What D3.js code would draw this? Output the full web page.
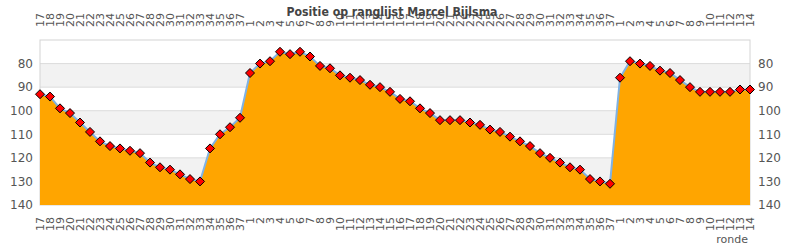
<!DOCTYPE html>
<html>
<head>
<meta charset="utf-8">
<script src="https://cdn.jsdelivr.net/npm/d3@7"></script>
<style>
  body { margin: 0; background: #fff; }
  text { font-family: "DejaVu Sans", sans-serif; fill: #555; }
</style>
</head>
<body>
<div id="chart"></div>
<script>
// Rondes per seizoen
var rondes1 = d3.range(17, 38);
var rondes2 = d3.range(1, 38);
var rondes3 = d3.range(1, 15);

// Positie op de ranglijst per ronde
var posities1 = [93, 94, 99, 101, 105, 109, 113, 115, 116, 117, 118, 122, 124, 125, 127, 129, 130, 116, 110, 107, 103];
var posities2 = [84, 80, 79, 75, 76, 75, 77, 81, 82, 85, 86, 87, 89, 90, 92, 95, 96, 99, 101, 104, 104, 104, 105, 106,
                 108, 109, 111, 113, 115, 118, 120, 122, 124, 125, 129, 130, 131];
var posities3 = [86, 79, 80, 81, 83, 84, 87, 90, 92, 92, 92, 92, 91, 91];

var yTicks = [80, 90, 100, 110, 120, 130, 140];

var labels = rondes1.concat(rondes2, rondes3);
var posities = posities1.concat(posities2, posities3);
var data = posities.map(function (p, i) { return { i: i, ronde: labels[i], pos: p }; });

var margin = { top: 40, right: 40, bottom: 45, left: 40 };
var totalW = 790, totalH = 250;
var width = totalW - margin.left - margin.right;
var height = 205 - margin.top;

var svg = d3.select("#chart").append("svg")
    .attr("width", totalW)
    .attr("height", totalH);

var g = svg.append("g")
    .attr("transform", "translate(" + margin.left + "," + margin.top + ")");

var x = d3.scalePoint()
    .domain(data.map(function (d) { return d.i; }))
    .range([0, width]);

var y = d3.scaleLinear()
    .domain([70, 140])
    .range([0, height]);

// achtergrond banden
var bands = [[80, 90], [100, 110], [120, 130]];
g.selectAll("rect.band").data(bands).join("rect")
    .attr("class", "band")
    .attr("x", 0)
    .attr("width", width)
    .attr("y", function (d) { return y(d[0]); })
    .attr("height", function (d) { return y(d[1]) - y(d[0]); })
    .attr("fill", "#f2f2f2");

// grid
g.selectAll("line.grid").data(yTicks.slice(0, -1)).join("line")
    .attr("class", "grid")
    .attr("x1", 0).attr("x2", width)
    .attr("y1", function (d) { return y(d); })
    .attr("y2", function (d) { return y(d); })
    .attr("stroke", "#dcdcdc");

// kader
g.append("rect")
    .attr("width", width)
    .attr("height", height)
    .attr("fill", "none")
    .attr("stroke", "#d4d4d4");

// gevuld vlak
var area = d3.area()
    .x(function (d) { return x(d.i); })
    .y0(y(140))
    .y1(function (d) { return y(d.pos); });

g.append("path")
    .datum(data)
    .attr("d", area)
    .attr("fill", "#ffa500");

var line = d3.line()
    .x(function (d) { return x(d.i); })
    .y(function (d) { return y(d.pos); });

g.append("path")
    .datum(data)
    .attr("d", line)
    .attr("fill", "none")
    .attr("stroke", "#7fb2e5")
    .attr("stroke-width", 2);

// markers (ruit)
var r = 4.5;
g.selectAll("path.marker").data(data).join("path")
    .attr("class", "marker")
    .attr("transform", function (d) { return "translate(" + x(d.i) + "," + y(d.pos) + ")"; })
    .attr("d", "M0," + (-r) + "L" + r + ",0L0," + r + "L" + (-r) + ",0Z")
    .attr("fill", "#ff0000")
    .attr("stroke", "#000")
    .attr("stroke-width", 1);

// y-assen links en rechts
var yAxisL = d3.axisLeft(y).tickValues(yTicks).tickSize(0).tickPadding(7);
var yAxisR = d3.axisRight(y).tickValues(yTicks).tickSize(0).tickPadding(8);

g.append("g").call(yAxisL)
    .call(function (a) { a.select(".domain").remove(); })
    .selectAll("text").style("font-size", "12px").attr("fill", "#555");

g.append("g").attr("transform", "translate(" + width + ",0)").call(yAxisR)
    .call(function (a) { a.select(".domain").remove(); })
    .selectAll("text").style("font-size", "12px").attr("fill", "#555");

// x labels boven
g.selectAll("text.xtop").data(data).join("text")
    .attr("class", "xtop")
    .attr("transform", function (d) { return "translate(" + x(d.i) + "," + (-13) + ") rotate(-90)"; })
    .attr("dy", "0.35em")
    .attr("text-anchor", "start")
    .style("font-size", "11px")
    .text(function (d) { return d.ronde; });

// x labels onder
g.selectAll("text.xbot").data(data).join("text")
    .attr("class", "xbot")
    .attr("transform", function (d) { return "translate(" + x(d.i) + "," + (height + 12) + ") rotate(-90)"; })
    .attr("dy", "0.35em")
    .attr("text-anchor", "end")
    .style("font-size", "11px")
    .text(function (d) { return d.ronde; });

// titel
svg.append("text")
    .attr("x", 392)
    .attr("y", 16)
    .attr("text-anchor", "middle")
    .attr("textLength", 211)
    .attr("lengthAdjust", "spacingAndGlyphs")
    .style("font-size", "13px")
    .style("font-weight", "bold")
    .style("fill", "#444")
    .text("Positie op ranglijst Marcel Bijlsma");

// as titel
svg.append("text")
    .attr("x", margin.left + width - 2)
    .attr("y", 243)
    .attr("text-anchor", "end")
    .style("font-size", "11px")
    .text("ronde");
</script>
</body>
</html>
